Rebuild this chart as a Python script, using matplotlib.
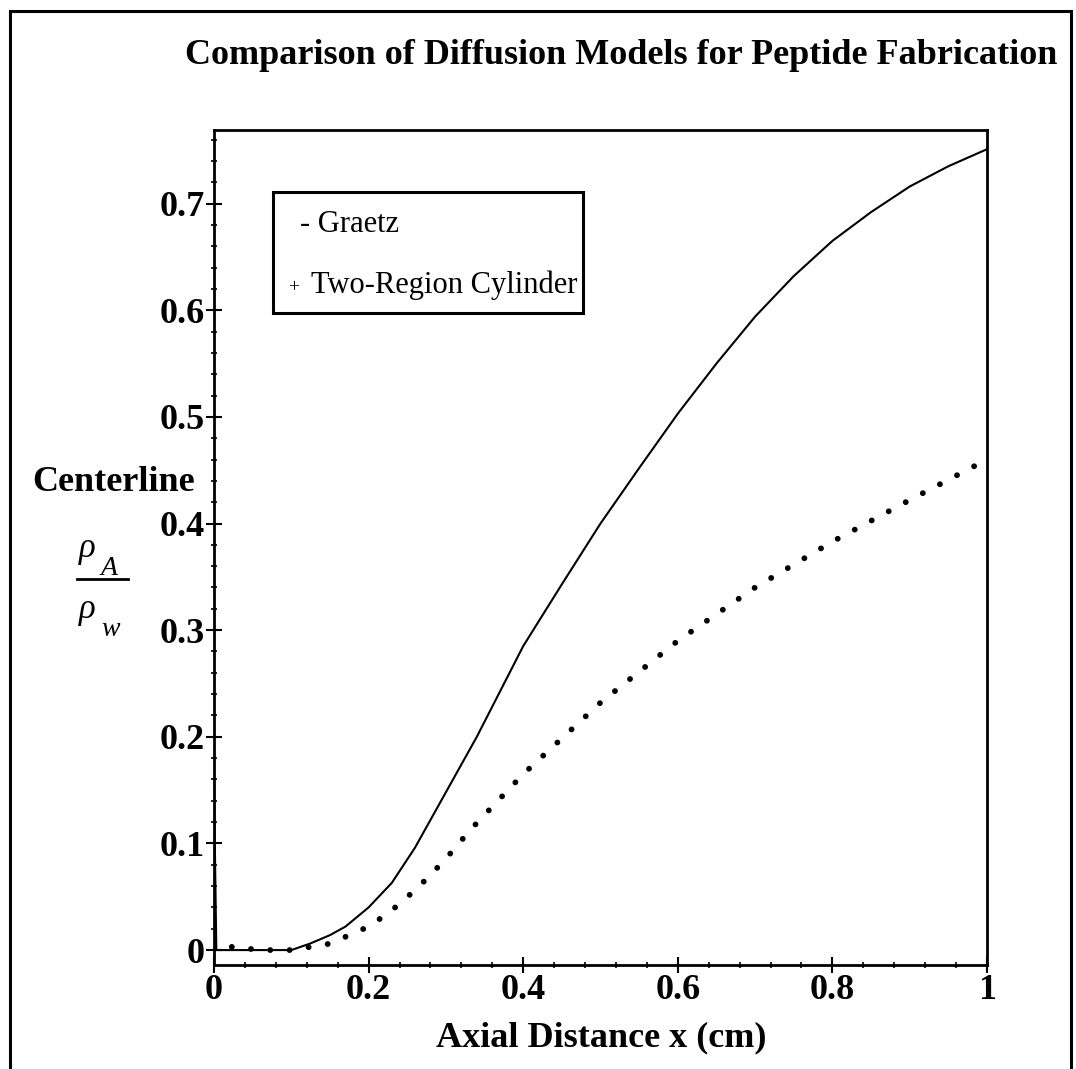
import numpy as np
import matplotlib.pyplot as plt
from matplotlib.patches import Rectangle
from matplotlib.lines import Line2D
from matplotlib.ticker import FixedLocator, MultipleLocator, FuncFormatter

# Graetz solution (solid)
x_graetz = [0.0, 0.003, 0.05, 0.10, 0.124, 0.15, 0.17, 0.20, 0.23, 0.26, 0.30,
            0.34, 0.40, 0.45, 0.50, 0.55, 0.60, 0.65, 0.70, 0.75, 0.80,
            0.85, 0.90, 0.95, 1.0]
y_graetz = [0.155, 0.0, 0.0, 0.0, 0.006, 0.014, 0.022, 0.040, 0.063, 0.096, 0.148,
            0.200, 0.285, 0.343, 0.400, 0.452, 0.503, 0.550, 0.594, 0.632, 0.665,
            0.692, 0.716, 0.735, 0.751]

# two-region cylinder model (dotted)
x_two = [0.023, 0.06, 0.10, 0.15, 0.20, 0.228, 0.263, 0.298, 0.332, 0.40, 0.50,
         0.60, 0.70, 0.80, 0.90, 1.0]
y_two = [0.003, 0.0, 0.0, 0.006, 0.022, 0.036, 0.058, 0.084, 0.113, 0.165, 0.232,
         0.29, 0.34, 0.383, 0.422, 0.46]

x_major = [0.0, 0.2, 0.4, 0.6, 0.8, 1.0]
y_major = [0.0, 0.1, 0.2, 0.3, 0.4, 0.5, 0.6, 0.7]

plt.rcParams['font.family'] = ['Liberation Serif', 'DejaVu Serif']

W, H = 1076, 1069
fig = plt.figure(figsize=(W / 100, H / 100), dpi=100)


def fx(px):
    return px / W


def fy(py):
    return 1 - py / H


ax = fig.add_axes([fx(214), fy(965), fx(987) - fx(214), fy(130) - fy(965)])

ax.plot(x_graetz, y_graetz, color='black', lw=1.5, solid_joinstyle='round')
ax.plot(x_two, y_two, color='black', lw=4.2, linestyle=(0, (0.01, 3.3)),
        dash_capstyle='round')

ax.set_xlim(0, 1)
ax.set_ylim(-0.014, 0.769)

ax.xaxis.set_major_locator(FixedLocator(x_major))
ax.yaxis.set_major_locator(FixedLocator(y_major))
ax.xaxis.set_minor_locator(MultipleLocator(0.04))
ax.yaxis.set_minor_locator(MultipleLocator(0.02))
fmt = FuncFormatter(lambda v, pos: f"{v:g}")
ax.xaxis.set_major_formatter(fmt)
ax.yaxis.set_major_formatter(fmt)

ax.tick_params(which='major', direction='inout', length=11, width=1.5,
               labelsize=26, pad=1)
ax.tick_params(which='minor', direction='inout', length=5, width=1.2)
for lab in ax.get_xticklabels() + ax.get_yticklabels():
    lab.set_fontweight('bold')
for s in ax.spines.values():
    s.set_linewidth(2)

# outer frame
fig.add_artist(Rectangle((fx(10), fy(1080)), fx(1071) - fx(10), fy(11) - fy(1080),
                         transform=fig.transFigure, fill=False, lw=2.2, color='black'))

fig.text(fx(621), fy(55), "Comparison of Diffusion Models for Peptide Fabrication",
         ha='center', va='center', fontsize=26, fontweight='bold')
fig.text(fx(601), fy(1038), "Axial Distance x (cm)", ha='center', va='center',
         fontsize=26, fontweight='bold')
fig.text(fx(114), fy(483), "Centerline", ha='center', va='center',
         fontsize=26, fontweight='bold')

# rho_A / rho_w label
fig.text(fx(79), fy(557), "ρ", ha='left', va='baseline', fontsize=25, style='italic')
fig.text(fx(101), fy(575), "A", ha='left', va='baseline', fontsize=20, style='italic')
fig.add_artist(Line2D([fx(77), fx(128)], [fy(579), fy(579)], transform=fig.transFigure,
                      color='black', lw=2))
fig.text(fx(79), fy(618), "ρ", ha='left', va='baseline', fontsize=25, style='italic')
fig.text(fx(101), fy(636), "w", ha='left', va='baseline', fontsize=20, style='italic')

# legend box
fig.add_artist(Rectangle((fx(273), fy(313)), fx(583) - fx(273), fy(192) - fy(313),
                         transform=fig.transFigure, fill=False, lw=2.2, color='black'))
fig.text(fx(300), fy(225), "- Graetz", ha='left', va='center', fontsize=22)
fig.text(fx(288), fy(288), "+", ha='left', va='center', fontsize=14)
fig.text(fx(311), fy(285), "Two-Region Cylinder", ha='left', va='center', fontsize=22)

fig.savefig('out.png', dpi=100)
